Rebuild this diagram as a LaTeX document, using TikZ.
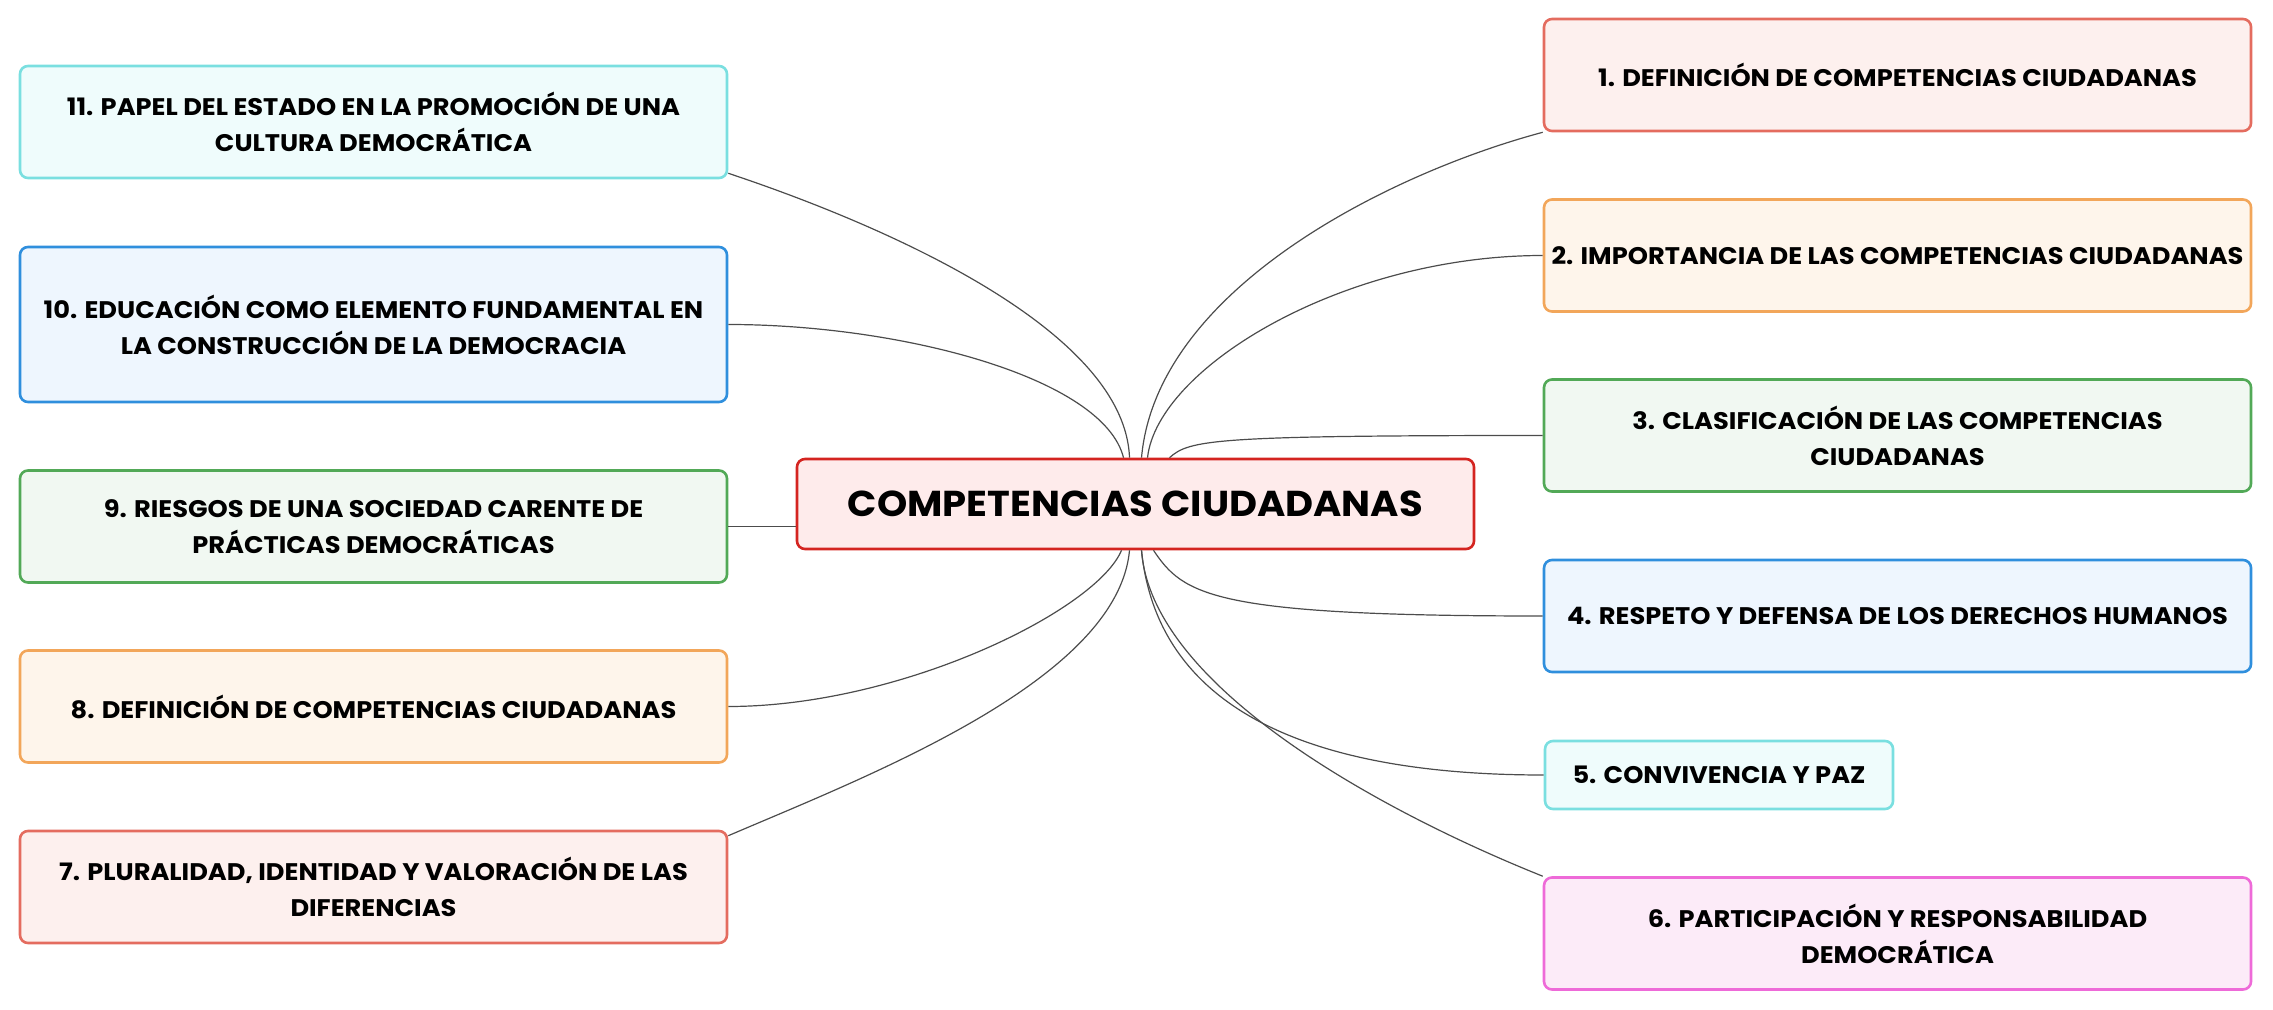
\documentclass[tikz,border=0pt]{standalone}
\usepackage{fontspec}
\setmainfont{Poppins}[FakeStretch=1.07]
\definecolor{rojo}{HTML}{E46C5F}\definecolor{rojof}{HTML}{FDF0EE}
\definecolor{naranja}{HTML}{F2A65A}\definecolor{naranjaf}{HTML}{FEF5EB}
\definecolor{verde}{HTML}{52A957}\definecolor{verdef}{HTML}{F1F8F2}
\definecolor{azul}{HTML}{2F8FDD}\definecolor{azulf}{HTML}{EEF6FE}
\definecolor{cian}{HTML}{7ADFE0}\definecolor{cianf}{HTML}{EFFCFC}
\definecolor{rosa}{HTML}{EE6AD8}\definecolor{rosaf}{HTML}{FCEBF8}
\definecolor{centro}{HTML}{D42420}\definecolor{centrof}{HTML}{FEEBEB}
\begin{document}
\begin{tikzpicture}[x=.5pt, y=-.5pt,
    tema/.style={draw=#1, fill=#1f, line width=1.3pt, rounded corners=4pt, align=center,
        minimum width=353.5pt, minimum height=56pt, inner sep=1pt,
        font=\bfseries\fontsize{12}{18}\selectfont},
    enlace/.style={draw=black!70, line width=.6pt}]
    \useasboundingbox (0,0) rectangle (2273,1010);
    % nodo central
    \node[draw=centro, fill=centrof, line width=1.3pt, rounded corners=4pt, minimum width=338.5pt,
        minimum height=45pt, font=\bfseries\fontsize{18}{22}\selectfont] (c) at (1135.5,504) {COMPETENCIAS CIUDADANAS};
    % derecha
    \node[tema=rojo] (n1) at (1897.5,75) {1. DEFINICIÓN DE COMPETENCIAS CIUDADANAS};
    \node[tema=naranja] (n2) at (1897.5,255.5) {2. IMPORTANCIA DE LAS COMPETENCIAS CIUDADANAS};
    \node[tema=verde] (n3) at (1897.5,435.5) {3. CLASIFICACIÓN DE LAS COMPETENCIAS\\ CIUDADANAS};
    \node[tema=azul] (n4) at (1897.5,616) {4. RESPETO Y DEFENSA DE LOS DERECHOS HUMANOS};
    \node[tema=cian, minimum width=174pt, minimum height=34pt] (n5) at (1719,775) {5. CONVIVENCIA Y PAZ};
    \node[tema=rosa] (n6) at (1897.5,933.5) {6. PARTICIPACIÓN Y RESPONSABILIDAD\\ DEMOCRÁTICA};
    % izquierda
    \node[tema=rojo] (n7) at (373.5,887) {7. PLURALIDAD, IDENTIDAD Y VALORACIÓN DE LAS\\ DIFERENCIAS};
    \node[tema=naranja] (n8) at (373.5,706.5) {8. DEFINICIÓN DE COMPETENCIAS CIUDADANAS};
    \node[tema=verde] (n9) at (373.5,526.5) {9. RIESGOS DE UNA SOCIEDAD CARENTE DE\\ PRÁCTICAS DEMOCRÁTICAS};
    \node[tema=azul, minimum height=77.5pt] (n10) at (373.5,324.5) {10. EDUCACIÓN COMO ELEMENTO FUNDAMENTAL EN\\ LA CONSTRUCCIÓN DE LA DEMOCRACIA};
    \node[tema=cian] (n11) at (373.5,122) {11. PAPEL DEL ESTADO EN LA PROMOCIÓN DE UNA\\ CULTURA DEMOCRÁTICA};
    % enlaces
    \draw[enlace] ([xshift=3pt]c.north) .. controls +(15,-170) and +(-150,40) .. (n1.south west);
    \draw[enlace] ([xshift=6pt]c.north) .. controls +(10,-90) and +(-200,0) .. (n2.west);
    \draw[enlace] ([xshift=17pt]c.north) .. controls +(20,-18) and +(-330,0) .. (n3.west);
    \draw[enlace] ([xshift=9pt]c.south) .. controls +(30,45) and +(-330,0) .. (n4.west);
    \draw[enlace] ([xshift=3pt]c.south) .. controls +(15,150) and +(-250,0) .. (n5.west);
    \draw[enlace] ([xshift=3pt]c.south) .. controls +(10,140) and +(-150,-60) .. (n6.north west);
    \draw[enlace] ([xshift=-3pt]c.south) .. controls +(-12,130) and +(140,-60) .. ([yshift=-3pt]n7.north east);
    \draw[enlace] ([xshift=-7pt]c.south) .. controls +(-25,60) and +(173,0) .. (n8.east);
    \draw[enlace] (n9.east) -- (n9.east -| c.west);
    \draw[enlace] ([xshift=-6pt]c.north) .. controls +(-20,-80) and +(173,0) .. (n10.east);
    \draw[enlace] ([xshift=-3pt]c.north) .. controls +(-5,-130) and +(150,50) .. ([yshift=3pt]n11.south east);
\end{tikzpicture}
\end{document}
